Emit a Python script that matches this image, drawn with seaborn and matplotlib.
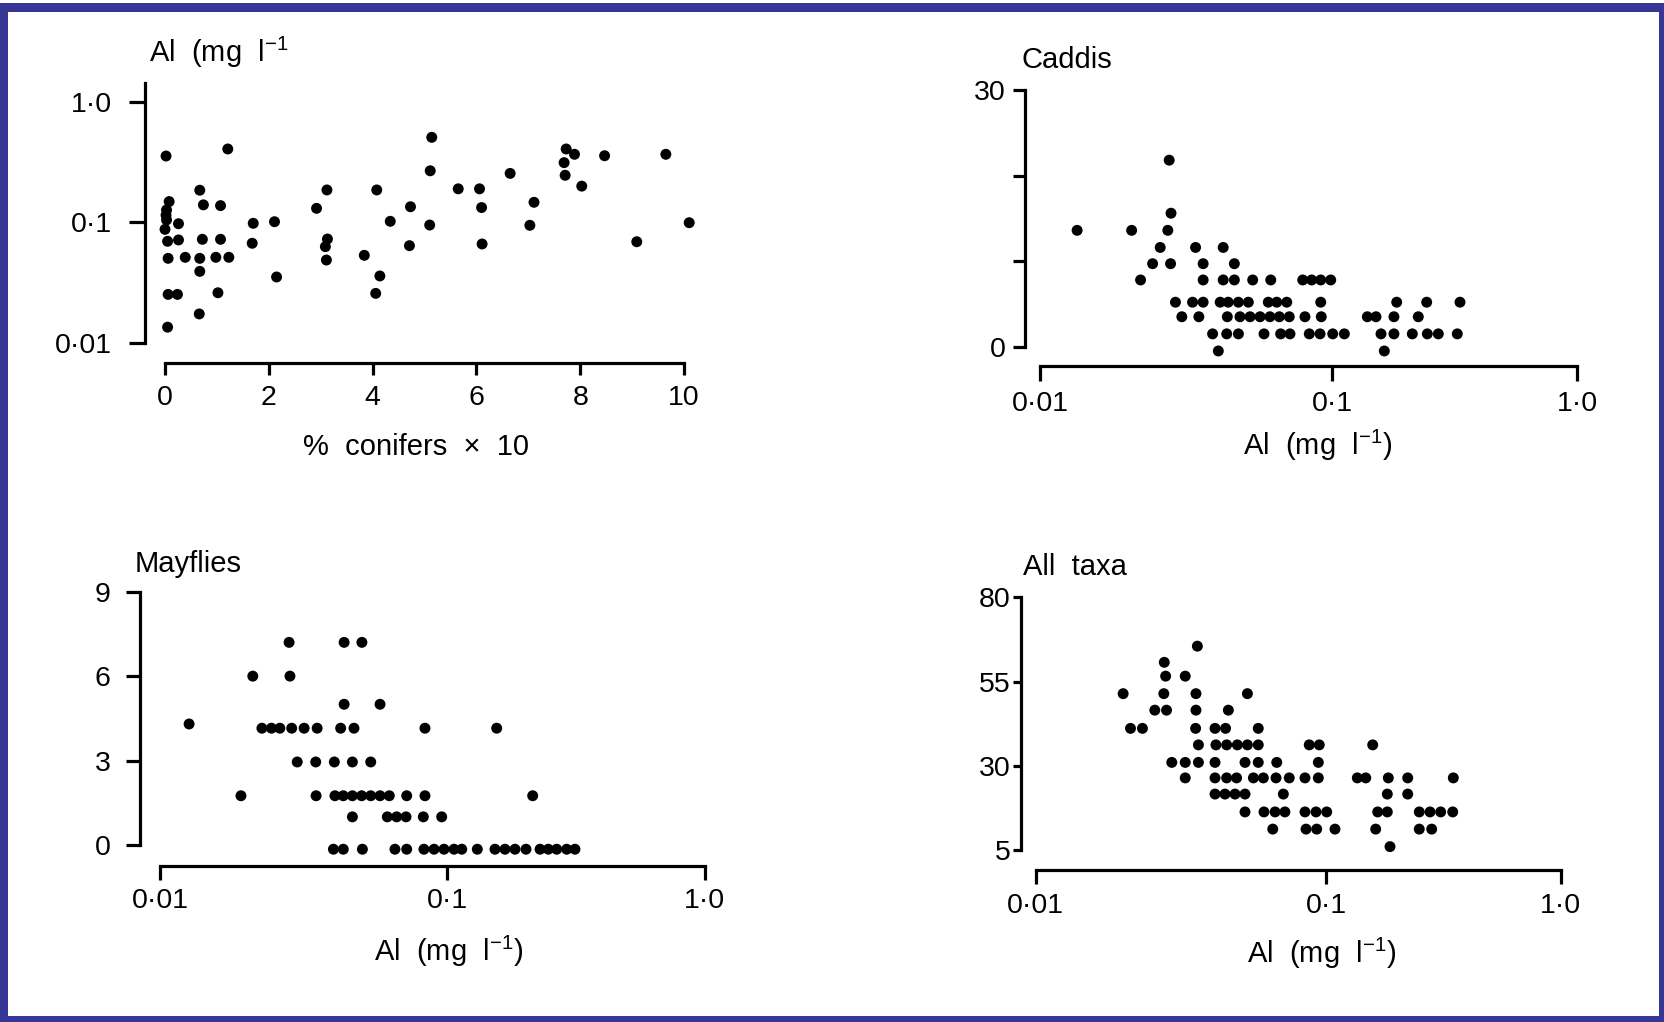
import numpy as np
import matplotlib
matplotlib.use("Agg")
import matplotlib.pyplot as plt
import seaborn as sns
from matplotlib.patches import Rectangle
from matplotlib.ticker import NullLocator, FixedLocator, FixedFormatter

# ---------------- data ----------------
# Panel 1: Al (mg l-1) versus % conifers x 10
conifer_pct = [0.02, 1.21, 5.14, 5.11, 5.10, 0.67, 0.74, 1.07, 0.08, 0.03,
               0.02, 0.03, 0.00, 0.26, 0.05, 0.26, 0.06, 0.39, 0.67, 0.98,
               1.23, 0.72, 1.07, 0.67, 1.02, 0.06, 0.24, 0.66, 0.05, 1.70,
               1.68, 2.11, 2.15, 2.92, 3.12, 3.13, 3.09, 3.11, 3.84, 4.08,
               4.34, 4.73, 4.71, 4.14, 4.06, 7.73, 7.89, 7.69, 7.71, 8.03,
               8.47, 9.65, 5.65, 6.06, 6.10, 6.11, 6.65, 7.11, 7.03, 9.09, 10.1]
conifer_al = [0.355, 0.406, 0.507, 0.268, 0.0953, 0.185, 0.140, 0.138, 0.149, 0.127,
              0.115, 0.105, 0.0878, 0.0977, 0.0699, 0.0717, 0.0505, 0.0515, 0.0505, 0.0515,
              0.0515, 0.0726, 0.0726, 0.0394, 0.0262, 0.0254, 0.0254, 0.0175, 0.0136, 0.0985,
              0.0673, 0.1015, 0.0354, 0.131, 0.186, 0.0730, 0.0631, 0.0489, 0.0535, 0.186,
              0.1023, 0.135, 0.0643, 0.0361, 0.0259, 0.406, 0.367, 0.313, 0.246, 0.200,
              0.357, 0.367, 0.190, 0.190, 0.133, 0.0664, 0.255, 0.147, 0.0948, 0.0693, 0.0996]

# Panel 2: Caddis versus Al
caddis_al = [0.0277,
             0.0281,
             0.0134, 0.0206, 0.0274,
             0.0258, 0.0341, 0.0424,
             0.0243, 0.0280, 0.0362, 0.0463,
             0.0221, 0.0362, 0.0424, 0.0463, 0.0535, 0.0617, 0.0794, 0.0852, 0.0915, 0.0990,
             0.0291, 0.0333, 0.0362, 0.0414, 0.0441, 0.0478, 0.0517, 0.0605, 0.0647, 0.0700,
             0.0915, 0.1837, 0.2435, 0.3330,
             0.0306, 0.0350, 0.0438, 0.0484, 0.0524, 0.0567, 0.0613, 0.0660, 0.0714, 0.0808,
             0.0919, 0.1394, 0.1512, 0.1790, 0.2250,
             0.0390, 0.0436, 0.0478, 0.0585, 0.0667, 0.0718, 0.0836, 0.0910, 0.1007, 0.1123,
             0.1585, 0.1790, 0.2127, 0.2449, 0.2716, 0.3246,
             0.0408, 0.1635]
caddis_n = [21.8,
            15.6,
            13.6, 13.6, 13.6,
            11.6, 11.6, 11.6,
            9.7, 9.7, 9.7, 9.7,
            7.8, 7.8, 7.8, 7.8, 7.8, 7.8, 7.8, 7.8, 7.8, 7.8,
            5.2, 5.2, 5.2, 5.2, 5.2, 5.2, 5.2, 5.2, 5.2, 5.2,
            5.2, 5.2, 5.2, 5.2,
            3.5, 3.5, 3.5, 3.5, 3.5, 3.5, 3.5, 3.5, 3.5, 3.5,
            3.5, 3.5, 3.5, 3.5, 3.5,
            1.5, 1.5, 1.5, 1.5, 1.5, 1.5, 1.5, 1.5, 1.5, 1.5,
            1.5, 1.5, 1.5, 1.5, 1.5, 1.5,
            -0.5, -0.5]

# Panel 3: Mayflies versus Al
mayfly_al = [0.0281, 0.0437, 0.0504,
             0.0210, 0.0283,
             0.0437, 0.0583,
             0.0126,
             0.0226, 0.0244, 0.0261, 0.0287, 0.0317, 0.0352, 0.0425, 0.0473, 0.0836, 0.1556,
             0.0300, 0.0348, 0.0404, 0.0467, 0.0541,
             0.0191, 0.0349, 0.0406, 0.0434, 0.0467, 0.0503, 0.0541, 0.0583, 0.0628, 0.0722,
             0.0836, 0.2147,
             0.0467, 0.0618, 0.0666, 0.0718, 0.0825, 0.0956,
             0.0401, 0.0434, 0.0506, 0.0657, 0.0722, 0.0829, 0.0899, 0.0974, 0.1062, 0.1138,
             0.1308, 0.1532, 0.1676, 0.1833, 0.2022, 0.2293, 0.2469, 0.2662, 0.2911, 0.3135]
mayfly_n = [7.2, 7.2, 7.2,
            6.0, 6.0,
            5.0, 5.0,
            4.3,
            4.15, 4.15, 4.15, 4.15, 4.15, 4.15, 4.15, 4.15, 4.15, 4.15,
            2.95, 2.95, 2.95, 2.95, 2.95,
            1.75, 1.75, 1.75, 1.75, 1.75, 1.75, 1.75, 1.75, 1.75, 1.75,
            1.75, 1.75,
            1.0, 1.0, 1.0, 1.0, 1.0, 1.0,
            -0.15, -0.15, -0.15, -0.15, -0.15, -0.15, -0.15, -0.15, -0.15, -0.15,
            -0.15, -0.15, -0.15, -0.15, -0.15, -0.15, -0.15, -0.15, -0.15, -0.15]

# Panel 4: All taxa versus Al
alltaxa_al = [0.0360,
              0.0277,
              0.0280, 0.0327,
              0.0200, 0.0276, 0.0356, 0.0535,
              0.0257, 0.0282, 0.0356, 0.0460,
              0.0212, 0.0233, 0.0355, 0.0414, 0.0450, 0.0583,
              0.0363, 0.0417, 0.0454, 0.0494, 0.0535, 0.0583, 0.0873, 0.0945, 0.1576,
              0.0294, 0.0327, 0.0363, 0.0414, 0.0525, 0.0583, 0.0675, 0.0938,
              0.0327, 0.0414, 0.0454, 0.0491, 0.0561, 0.0607, 0.0671, 0.0745, 0.0844, 0.0938,
              0.1355, 0.1472, 0.1837, 0.2223, 0.3479,
              0.0414, 0.0448, 0.0485, 0.0525, 0.0711, 0.1819, 0.2223,
              0.0525, 0.0610, 0.0666, 0.0720, 0.0844, 0.0921, 0.1003, 0.1655, 0.1819, 0.2490,
              0.2767, 0.3073, 0.3459,
              0.0654, 0.0851, 0.0926, 0.1088, 0.1623, 0.2490, 0.2813,
              0.1868]
alltaxa_n = [65.5,
             60.7,
             56.6, 56.6,
             51.4, 51.4, 51.4, 51.4,
             46.5, 46.5, 46.5, 46.5,
             41.1, 41.1, 41.1, 41.1, 41.1, 41.1,
             36.2, 36.2, 36.2, 36.2, 36.2, 36.2, 36.2, 36.2, 36.2,
             31.0, 31.0, 31.0, 31.0, 31.0, 31.0, 31.0, 31.0,
             26.4, 26.4, 26.4, 26.4, 26.4, 26.4, 26.4, 26.4, 26.4, 26.4,
             26.4, 26.4, 26.4, 26.4, 26.4,
             21.6, 21.6, 21.6, 21.6, 21.6, 21.6, 21.6,
             16.3, 16.3, 16.3, 16.3, 16.3, 16.3, 16.3, 16.3, 16.3, 16.3,
             16.3, 16.3, 16.3,
             11.2, 11.2, 11.2, 11.2, 11.2, 11.2, 11.2,
             6.0]

# tick values and labels
pct_ticks = [0, 2, 4, 6, 8, 10]
pct_ticklabels = ["0", "2", "4", "6", "8", "10"]
al_ticks = [0.01, 0.1, 1.0]
al_ticklabels = ["0\u00b701", "0\u00b71", "1\u00b70"]
caddis_ticks = [0, 10, 20, 30]
caddis_ticklabels = ["0", "", "", "30"]
mayfly_ticks = [0, 3, 6, 9]
mayfly_ticklabels = ["0", "3", "6", "9"]
alltaxa_ticks = [5, 30, 55, 80]
alltaxa_ticklabels = ["5", "30", "55", "80"]

# ---------------- style ----------------
sns.set_theme(style="ticks")
plt.rcParams["font.family"] = ["Liberation Sans", "DejaVu Sans"]
plt.rcParams["mathtext.fontset"] = "custom"
plt.rcParams["mathtext.rm"] = "Liberation Sans"
plt.rcParams["mathtext.it"] = "Liberation Sans:italic"
plt.rcParams["mathtext.bf"] = "Liberation Sans:bold"
plt.rcParams["mathtext.default"] = "regular"

W, H = 1665, 1022
fig = plt.figure(figsize=(W / 100, H / 100), dpi=100)
fig.patch.set_facecolor("white")

TICK_FS = 20.5
LABEL_FS = 21
TITLE_FS = 21
LW = 2.3
DOT = 62


def px(p):
    return p * 0.72


def rect(x0, x1, top, bot):
    return [x0 / W, 1 - bot / H, (x1 - x0) / W, (bot - top) / H]


def two_decade_scale(r):
    """Log axis whose second decade (0.1-1.0) is drawn r times as long as the first."""
    def fwd(x):
        l = np.log10(np.clip(np.asarray(x, float), 1e-9, None)) + 2.0
        return np.where(l <= 1.0, l, 1.0 + (l - 1.0) * r)

    def inv(t):
        t = np.asarray(t, float)
        l = np.where(t <= 1.0, t, 1.0 + (t - 1.0) / r)
        return 10.0 ** (l - 2.0)
    return fwd, inv


def style(ax, left_out, bottom_out, ylen, xlen, ypad, xpad):
    sns.despine(ax=ax)
    ax.set_facecolor("none")
    ax.grid(False)
    ax.spines["left"].set_position(("outward", px(left_out)))
    ax.spines["bottom"].set_position(("outward", px(bottom_out)))
    for s in ("left", "bottom"):
        ax.spines[s].set_linewidth(LW)
        ax.spines[s].set_color("black")
        ax.spines[s].set_capstyle("projecting")
    ax.tick_params(axis="y", which="major", direction="out", length=px(ylen), width=LW,
                   pad=ypad, labelsize=TICK_FS, colors="black")
    ax.tick_params(axis="x", which="major", direction="out", length=px(xlen), width=LW,
                   pad=xpad, labelsize=TICK_FS, colors="black")
    ax.xaxis.set_minor_locator(NullLocator())
    ax.yaxis.set_minor_locator(NullLocator())
    ax.set_xlabel("")
    ax.set_ylabel("")


def scatter(ax, x, y):
    sns.scatterplot(x=x, y=y, ax=ax, color="black", s=DOT, edgecolor="none",
                    linewidth=0, clip_on=False, legend=False)


# ---------- Panel 1 ----------
ax1 = fig.add_axes(rect(165, 684, 101.7, 343.3))
scatter(ax1, conifer_pct, conifer_al)
ax1.set_yscale("log")
ax1.set_xlim(0, 10)
ax1.set_ylim(0.01, 1.0)
ax1.xaxis.set_major_locator(FixedLocator(pct_ticks))
ax1.xaxis.set_major_formatter(FixedFormatter(pct_ticklabels))
ax1.yaxis.set_major_locator(FixedLocator(al_ticks))
ax1.yaxis.set_major_formatter(FixedFormatter(al_ticklabels))
style(ax1, 20, 19.7, 16, 12, 12.5, 7)
ax1.spines["left"].set_bounds(0.01, 1.43)   # the drawn axis runs a little above 1·0

# ---------- Panel 2 ----------
ax2 = fig.add_axes(rect(1040, 1577, 90, 346.7))
scatter(ax2, caddis_al, caddis_n)
ax2.set_xscale("function", functions=two_decade_scale(245 / 292))
ax2.set_xlim(0.01, 1.0)
ax2.set_ylim(0, 30)
ax2.xaxis.set_major_locator(FixedLocator(al_ticks))
ax2.xaxis.set_major_formatter(FixedFormatter(al_ticklabels))
ax2.yaxis.set_major_locator(FixedLocator(caddis_ticks))
ax2.yaxis.set_major_formatter(FixedFormatter(caddis_ticklabels))
style(ax2, 15, 19.5, 12, 15, 5, 7)

# ---------- Panel 3 ----------
ax3 = fig.add_axes(rect(160.3, 704.6, 591.7, 845))
scatter(ax3, mayfly_al, mayfly_n)
ax3.set_xscale("function", functions=two_decade_scale(257.3 / 287))
ax3.set_xlim(0.01, 1.0)
ax3.set_ylim(0, 9)
ax3.xaxis.set_major_locator(FixedLocator(al_ticks))
ax3.xaxis.set_major_formatter(FixedFormatter(al_ticklabels))
ax3.yaxis.set_major_locator(FixedLocator(mayfly_ticks))
ax3.yaxis.set_major_formatter(FixedFormatter(mayfly_ticklabels))
style(ax3, 20.3, 21, 14, 14, 11, 5.5)

# ---------- Panel 4 ----------
ax4 = fig.add_axes(rect(1035.6, 1560.8, 597.3, 850))
scatter(ax4, alltaxa_al, alltaxa_n)
ax4.set_xscale("function", functions=two_decade_scale(234.4 / 290.8))
ax4.set_xlim(0.01, 1.0)
ax4.set_ylim(5, 80)
ax4.xaxis.set_major_locator(FixedLocator(al_ticks))
ax4.xaxis.set_major_formatter(FixedFormatter(al_ticklabels))
ax4.yaxis.set_major_locator(FixedLocator(alltaxa_ticks))
ax4.yaxis.set_major_formatter(FixedFormatter(alltaxa_ticklabels))
style(ax4, 14.6, 20, 8, 14, 1.5, 6.5)

# ---------- titles and axis labels (figure pixel positions) ----------
def ftext(x, y, s, size, ha="left"):
    fig.text(x / W, 1 - y / H, s, fontsize=size, ha=ha, va="baseline", color="black")

al_label = "Al  (mg  l$^{-1}$)"
ftext(149, 62, "Al  (mg  l$^{-1}$", TITLE_FS)
ftext(1022, 68, "Caddis", TITLE_FS)
ftext(135, 572, "Mayflies", TITLE_FS)
ftext(1023, 575, "All  taxa", TITLE_FS)

ftext(416, 455, "%  conifers  \u00d7  10", LABEL_FS, ha="center")
ftext(1318, 455, al_label, LABEL_FS, ha="center")
ftext(449, 961, al_label, LABEL_FS, ha="center")
ftext(1322, 963, al_label, LABEL_FS, ha="center")

# ---------- blue frame ----------
frame_c = "#363696"
for (x0, y0, w, h) in [(0, 3, W, 9), (0, 3, 8, H - 3), (W - 6, 3, 6, H - 3), (0, H - 6, W, 6)]:
    fig.add_artist(Rectangle((x0 / W, 1 - (y0 + h) / H), w / W, h / H,
                             transform=fig.transFigure, facecolor=frame_c,
                             edgecolor="none", zorder=10))

fig.savefig("out.png", dpi=100, facecolor="white")
